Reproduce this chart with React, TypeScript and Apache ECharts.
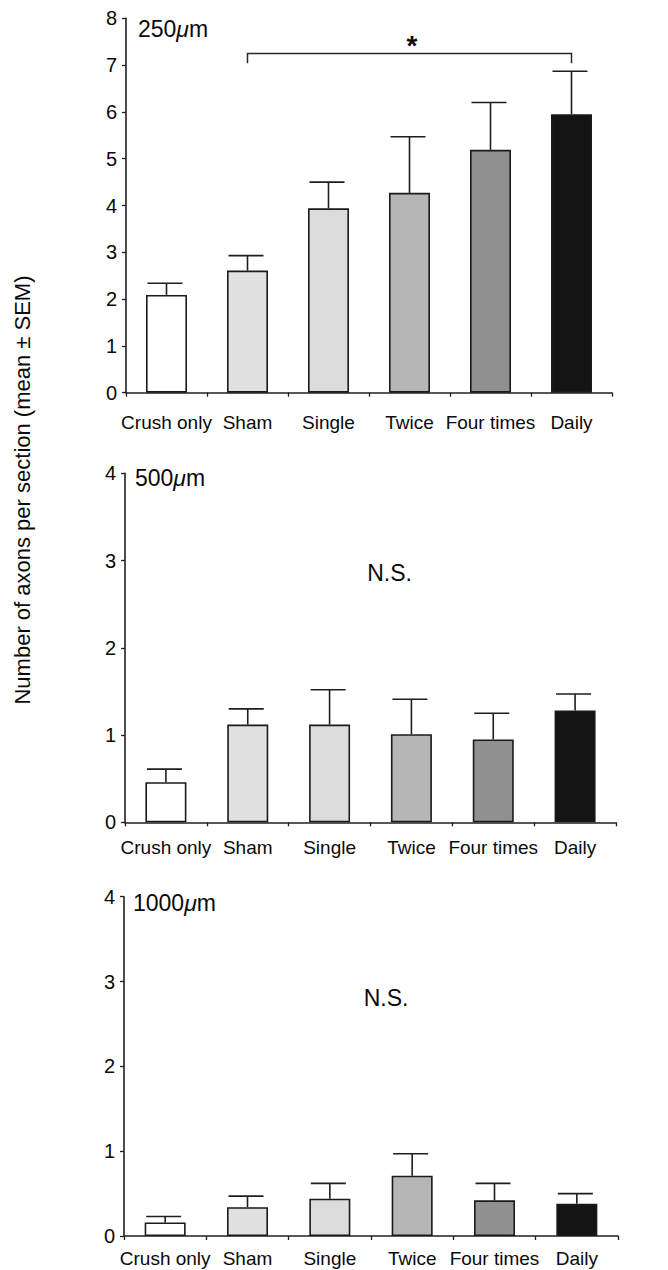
import React, { useEffect, useRef } from "react";
import * as echarts from "echarts";

const categories = ["Crush only", "Sham", "Single", "Twice", "Four times", "Daily"];
const barColors = ["#ffffff", "#e1e1e1", "#dcdcdc", "#b6b6b6", "#909090", "#141414"];

const mean250 = [2.09, 2.61, 3.94, 4.27, 5.19, 5.95];
const sem250 = [0.25, 0.32, 0.56, 1.2, 1.01, 0.92];

const mean500 = [0.46, 1.12, 1.12, 1.01, 0.95, 1.28];
const sem500 = [0.15, 0.18, 0.4, 0.4, 0.3, 0.19];

const mean1000 = [0.16, 0.34, 0.44, 0.71, 0.42, 0.38];
const sem1000 = [0.07, 0.13, 0.18, 0.26, 0.2, 0.12];

const panelLabels = ["250", "500", "1000"];
const yMax = [8, 4, 4];
// significance bracket: from Sham (1) to Daily (5)
const bracket = [[1, 5, 7.04, 7.25]];

const FONT = "Liberation Sans, Arial, Helvetica, sans-serif";
const TEXT = "#0a0a0a";
const AXIS = "#202020";

export default function App() {
  const ref = useRef<HTMLDivElement>(null);

  useEffect(() => {
    if (!ref.current) return;
    const chart = echarts.init(ref.current, null, { renderer: "svg" });

    const grids = [
      { left: 126, top: 18.3, width: 486, height: 374.4 },
      { left: 125, top: 473.3, width: 491, height: 349 },
      { left: 124, top: 896.7, width: 494, height: 339.3 },
    ];
    const labelMargins = [20, 16, 13];
    const means = [mean250, mean500, mean1000];
    const sems = [sem250, sem500, sem1000];

    const xAxes = grids.map((_, i) => ({
      type: "category",
      gridIndex: i,
      data: categories,
      boundaryGap: true,
      axisLine: { lineStyle: { color: AXIS, width: 1.6 } },
      axisTick: { show: true, length: 4, lineStyle: { color: AXIS, width: 1.3 } },
      axisLabel: { color: TEXT, fontSize: 19, fontFamily: FONT, margin: labelMargins[i], interval: 0 },
      splitLine: { show: false },
    }));

    const yAxes = grids.map((_, i) => ({
      type: "value",
      gridIndex: i,
      min: 0,
      max: yMax[i],
      interval: 1,
      axisLine: { show: true, lineStyle: { color: AXIS, width: 1.6 } },
      axisTick: { show: true, length: 4, lineStyle: { color: AXIS, width: 1.3 } },
      axisLabel: { color: TEXT, fontSize: 20, fontFamily: FONT, margin: 9 },
      splitLine: { show: false },
    }));

    const series: any[] = [];
    for (let i = 0; i < 3; i++) {
      series.push({
        type: "bar",
        xAxisIndex: i,
        yAxisIndex: i,
        barWidth: 41,
        data: means[i].map((v, k) => ({
          value: v,
          itemStyle: { color: barColors[k], borderColor: "#1a1a1a", borderWidth: 1.6 },
        })),
        z: 2,
      });
      series.push({
        type: "custom",
        xAxisIndex: i,
        yAxisIndex: i,
        data: means[i].map((v, k) => [k, v, v + sems[i][k]]),
        encode: { x: 0, y: [1, 2] },
        z: 3,
        renderItem: (params: any, api: any) => {
          const top = api.coord([api.value(0), api.value(2)]);
          const base = api.coord([api.value(0), api.value(1)]);
          const st = { stroke: "#1e1e1e", lineWidth: 1.6 };
          return {
            type: "group",
            children: [
              { type: "line", shape: { x1: top[0], y1: base[1], x2: top[0], y2: top[1] }, style: st },
              { type: "line", shape: { x1: top[0] - 19, y1: top[1], x2: top[0] + 16, y2: top[1] }, style: st },
            ],
          };
        },
      });
    }
    series.push({
      type: "custom",
      xAxisIndex: 0,
      yAxisIndex: 0,
      data: bracket,
      encode: { x: [0, 1], y: [2, 3] },
      z: 4,
      renderItem: (params: any, api: any) => {
        const a = api.coord([api.value(0), api.value(2)]);
        const b = api.coord([api.value(0), api.value(3)]);
        const c = api.coord([api.value(1), api.value(3)]);
        const d = api.coord([api.value(1), api.value(2)]);
        return {
          type: "polyline",
          shape: { points: [a, b, c, d] },
          style: { stroke: "#2a2a2a", lineWidth: 1.5, fill: "none" },
        };
      },
    });

    const labelPos = [
      [138, 29],
      [135, 478],
      [133, 903],
    ];
    const graphics: any[] = panelLabels.map((t, i) => ({
      type: "text",
      x: labelPos[i][0],
      y: labelPos[i][1],
      style: {
        text: t + "{i|μ}m",
        rich: { i: { fontStyle: "italic", fontSize: 23, fontFamily: FONT, fill: TEXT } },
        fontSize: 23,
        fontFamily: FONT,
        fill: TEXT,
        align: "left",
        textAlign: "left",
        verticalAlign: "middle",
        textVerticalAlign: "middle",
      },
    }));
    const nsPos = [
      [389.5, 573],
      [386, 998],
    ];
    nsPos.forEach((p) =>
      graphics.push({
        type: "text",
        x: p[0],
        y: p[1],
        style: {
          text: "N.S.",
          fontSize: 23,
          fontFamily: FONT,
          fill: TEXT,
          align: "center",
          textAlign: "center",
          verticalAlign: "middle",
          textVerticalAlign: "middle",
        },
      })
    );
    graphics.push({
      type: "text",
      x: 412,
      y: 45,
      style: {
        text: "*",
        fontSize: 28,
        fontWeight: "bold",
        fontFamily: FONT,
        fill: TEXT,
        align: "center",
        textAlign: "center",
        verticalAlign: "middle",
        textVerticalAlign: "middle",
      },
    });
    graphics.push({
      type: "text",
      x: 22,
      y: 490,
      rotation: Math.PI / 2,
      style: {
        text: "Number of axons per section (mean ± SEM)",
        fontSize: 22,
        fontFamily: FONT,
        fill: TEXT,
        align: "center",
        textAlign: "center",
        verticalAlign: "middle",
        textVerticalAlign: "middle",
      },
    });

    chart.setOption({
      animation: false,
      backgroundColor: "#ffffff",
      grid: grids,
      xAxis: xAxes,
      yAxis: yAxes,
      series,
      graphic: graphics,
    });

    return () => chart.dispose();
  }, []);

  return (
    <div
      ref={ref}
      style={{ position: "absolute", left: 0, top: 0, width: 668, height: 1270, background: "#fff" }}
    />
  );
}
